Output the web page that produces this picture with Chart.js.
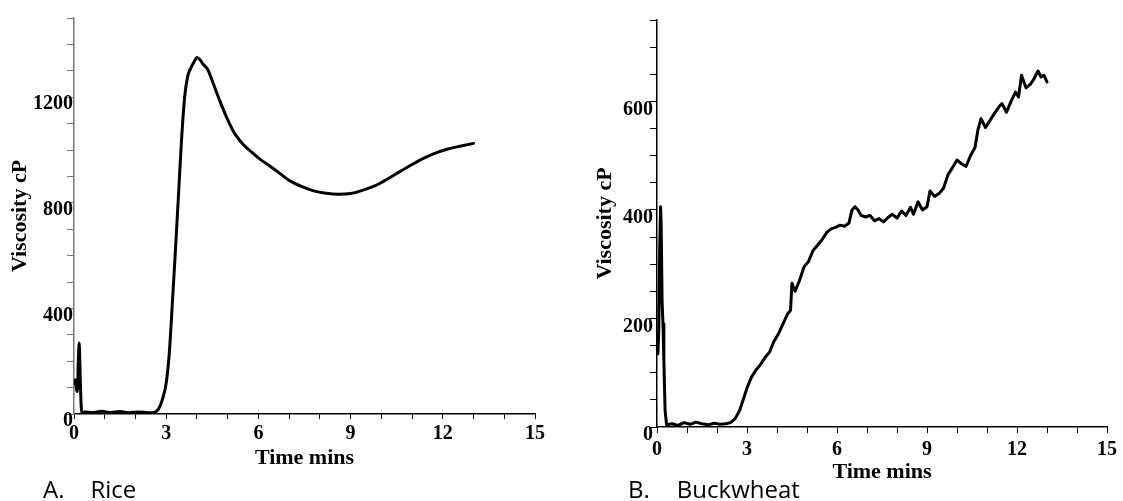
<!DOCTYPE html>
<html><head><meta charset="utf-8">
<script src="https://cdn.jsdelivr.net/npm/chart.js@4.4.1/dist/chart.umd.min.js"></script>
<style>
html,body{margin:0;padding:0;background:#fff;}
#wrap{position:relative;width:1123px;height:501px;overflow:hidden;background:#fff;}
.c{position:absolute;top:0;}
.lab{position:absolute;font-family:"Open Sans";font-size:24px;line-height:24px;color:#000;white-space:nowrap;}
</style></head><body>
<div id="wrap">
<div class="c" style="left:0px"><canvas id="c1" width="560" height="501"></canvas></div>
<div class="c" style="left:560px"><canvas id="c2" width="563" height="501"></canvas></div>
<div class="lab" style="left:43px;top:477px">A.<span style="margin-left:26px">Rice</span></div>
<div class="lab" style="left:628px;top:477px">B.<span style="margin-left:27px">Buckwheat</span></div>
</div>
<script>
// ---- data (time in minutes, viscosity in cP) ----
const riceTime = [0,0.04,0.08,0.11,0.14,0.17,0.2,0.25,0.35,0.6,0.9,1.2,1.5,1.8,2.1,2.4,2.6,2.7,2.8,2.9,3.0,3.1,3.2,3.3,3.4,3.5,3.6,3.7,3.8,3.9,4.0,4.1,4.2,4.35,4.5,4.65,4.8,5.0,5.2,5.4,5.6,5.8,6.0,6.3,6.6,7.0,7.4,7.8,8.2,8.6,9.0,9.4,9.8,10.2,10.6,11.0,11.4,11.8,12.2,12.6,13.0];
const riceVisc = [115,130,95,85,200,269,150,5,8,6,10,6,9,5,8,5,6,12,30,65,117,230,420,620,830,1040,1200,1280,1310,1332,1350,1342,1325,1305,1262,1215,1170,1115,1068,1035,1010,990,970,945,920,885,862,845,836,832,835,848,865,890,918,945,970,990,1005,1015,1025];

const buckTime = [0,0.03,0.06,0.09,0.12,0.14,0.17,0.2,0.23,0.27,0.32,0.5,0.7,0.9,1.1,1.3,1.5,1.7,1.9,2.1,2.3,2.45,2.6,2.75,2.9,3.0,3.15,3.3,3.45,3.6,3.75,3.9,4.05,4.2,4.35,4.45,4.5,4.6,4.75,4.9,5.05,5.2,5.35,5.5,5.65,5.8,5.95,6.1,6.25,6.4,6.5,6.6,6.7,6.8,6.95,7.1,7.25,7.4,7.55,7.7,7.85,8.0,8.15,8.3,8.45,8.55,8.7,8.85,9.0,9.1,9.25,9.4,9.55,9.7,9.85,10.0,10.15,10.3,10.45,10.6,10.7,10.8,10.95,11.1,11.25,11.4,11.5,11.65,11.8,11.95,12.05,12.15,12.3,12.45,12.55,12.7,12.8,12.9,13.0];
const buckVisc = [160,135,180,330,406,370,230,190,120,30,4,6,3,8,5,9,6,4,7,5,6,8,15,30,55,72,92,105,115,128,138,158,172,190,208,215,265,250,270,295,305,325,335,345,358,365,368,372,370,376,400,406,400,390,387,390,380,384,378,386,392,385,398,390,405,392,415,400,406,435,425,430,440,465,478,492,485,480,500,515,548,568,552,565,578,590,596,580,600,617,608,648,625,632,640,656,645,648,636];

const xLabelTicks = [0,3,6,9,12,15];
const riceYLabels = [0,400,800,1200];
const buckYLabels = [0,200,400,600];

const serif = 'Liberation Serif';

function pts(t, v){ return t.map((x,i)=>({x:x, y:v[i]})); }

function makeChart(id, data, p){
  return new Chart(document.getElementById(id), {
    type:'line',
    data:{datasets:[{data:data, borderColor:'#000', borderWidth:3, pointRadius:0,
      tension:p.tension, cubicInterpolationMode:p.mono?'monotone':'default',
      borderJoinStyle:'round', borderCapStyle:'round', fill:false}]},
    options:{
      responsive:false, animation:false, events:[],
      layout:{padding:{left:0, top:p.top, right:p.right, bottom:0}},
      plugins:{legend:{display:false}, tooltip:{enabled:false}, title:{display:false}},
      scales:{
        x:{type:'linear', min:0, max:15,
          afterFit:s=>{s.height=p.xh;},
          ticks:{stepSize:1, autoSkip:false, maxRotation:0, padding:p.xpad, color:'#000',
            font:{family:serif, weight:'bold', size:20},
            callback:v=> xLabelTicks.includes(v) ? String(v) : ''},
          grid:{drawOnChartArea:false, drawTicks:true, tickLength:p.xtl, color:'#000', lineWidth:1},
          border:{display:true, color:'#000', width:1.5},
          title:{display:true, text:'Time mins', color:'#000',
            font:{family:serif, weight:'bold', size:22}, padding:{top:0, bottom:p.xtp}}
        },
        y:{type:'linear', min:0, max:p.ymax,
          afterFit:s=>{s.width=p.yw;},
          ticks:{stepSize:p.ystep, autoSkip:false, padding:p.ypad, labelOffset:p.lo, color:'#000',
            font:{family:serif, weight:'bold', size:20},
            callback:v=> p.ylabels.includes(v) ? String(v) : ''},
          grid:{drawOnChartArea:false, drawTicks:true, tickLength:7, color:p.ycol, lineWidth:1},
          border:{display:true, color:p.ycol, width:1.5},
          title:{display:true, text:'Viscosity cP', color:'#000',
            font:{family:serif, weight:'bold', size:22}, padding:{top:p.ytp, bottom:0}}
        }
      }
    }
  });
}

makeChart('c1', pts(riceTime, riceVisc), {
  tension:0.4, mono:true, top:18, right:25, xh:87, xpad:3, xtl:5, xtp:29,
  ymax:1500, ystep:100, yw:74, ypad:-6, lo:7, ycol:'#777', ylabels:riceYLabels, ytp:7
});
makeChart('c2', pts(buckTime, buckVisc), {
  tension:0, mono:false, top:20, right:16, xh:74, xpad:5, xtl:6, xtp:15,
  ymax:750, ystep:50, yw:97, ypad:-3, lo:8, ycol:'#000', ylabels:buckYLabels, ytp:32
});
</script>
</body></html>
